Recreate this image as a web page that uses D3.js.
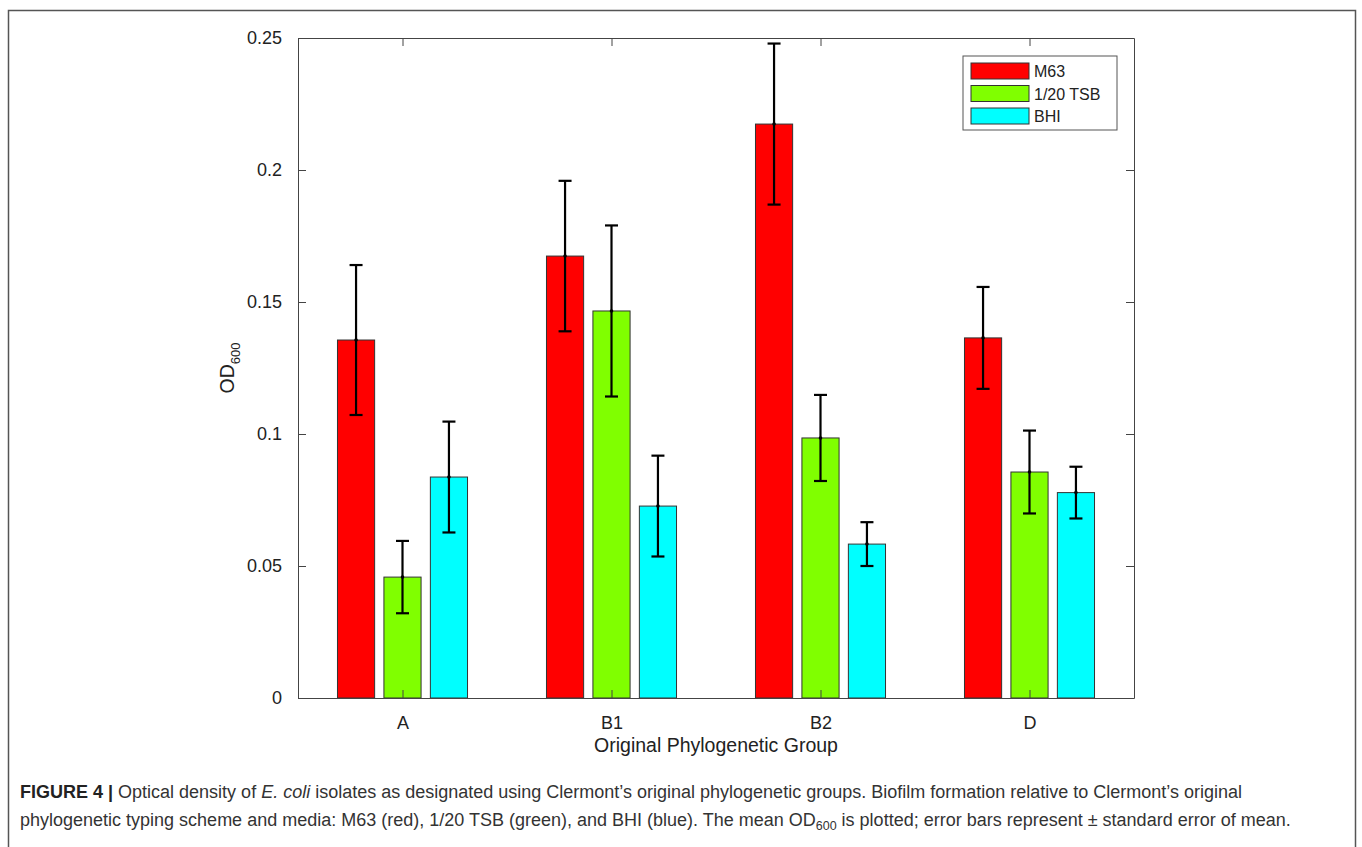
<!DOCTYPE html>
<html>
<head>
<meta charset="utf-8">
<script src="https://cdn.jsdelivr.net/npm/d3@7"></script>
<style>
  body { margin: 0; background: #fff; }
  svg text { font-family: "Liberation Sans", Arial, sans-serif; }
</style>
</head>
<body>
<div id="chart"></div>
<script>
const groups = ["A", "B1", "B2", "D"];
const media = ["M63", "1/20 TSB", "BHI"];
const colors = ["#ff0000", "#80ff00", "#00ffff"];
const meanM63 = [0.1356, 0.1674, 0.2174, 0.1364];
const meanTSB = [0.0458, 0.1466, 0.0985, 0.0856];
const meanBHI = [0.0837, 0.0727, 0.0583, 0.0778];
const semM63 = [0.0284, 0.0285, 0.0305, 0.0193];
const semTSB = [0.0137, 0.0324, 0.0163, 0.0157];
const semBHI = [0.0210, 0.0191, 0.0083, 0.0098];
const yTicks = [0, 0.05, 0.1, 0.15, 0.2, 0.25];

const drawChart = function() {
    const W = 1362, H = 847;
    const left = 298, top = 38, right = 1134, bottom = 698;

    const means = [meanM63, meanTSB, meanBHI];
    const sems = [semM63, semTSB, semBHI];
    const data = [];
    groups.forEach(function(g, gi) {
        media.forEach(function(m, mi) {
            data.push({group: g, gi: gi, mi: mi, value: means[mi][gi], sem: sems[mi][gi]});
        });
    });

    const svg = d3.select("#chart").append("svg")
        .attr("width", W)
        .attr("height", H);

    // outer figure frame
    svg.append("path")
        .attr("d", "M8.5," + H + "V10.5H1355.5V" + H)
        .attr("fill", "none")
        .attr("stroke", "#555")
        .attr("stroke-width", 1.5);

    const x = d3.scaleLinear().domain([0.5, 4.5]).range([left, right]);
    const y = d3.scaleLinear().domain([0, 0.25]).range([bottom, top]);

    const groupW = 3 / 4.5;
    const barOffset = function(mi) { return (mi - 1) * groupW / 3; };
    const barW = x(1 + 0.8 * groupW / 3) - x(1);
    const cx = function(d) { return x(d.gi + 1 + barOffset(d.mi)); };

    // bars
    svg.append("g").selectAll("rect")
        .data(data)
        .join("rect")
        .attr("x", function(d) { return cx(d) - barW / 2; })
        .attr("y", function(d) { return y(d.value); })
        .attr("width", barW)
        .attr("height", function(d) { return y(0) - y(d.value); })
        .attr("fill", function(d) { return colors[d.mi]; })
        .attr("stroke", "#333")
        .attr("stroke-width", 1);

    // error bars
    const eb = svg.append("g").attr("stroke", "#000").attr("stroke-width", 2.2);
    eb.selectAll("line.v")
        .data(data)
        .join("line")
        .attr("class", "v")
        .attr("x1", cx).attr("x2", cx)
        .attr("y1", function(d) { return y(d.value + d.sem); })
        .attr("y2", function(d) { return y(d.value - d.sem); });
    [1, -1].forEach(function(s) {
        eb.selectAll("line.c" + (s > 0 ? "t" : "b"))
            .data(data)
            .join("line")
            .attr("class", "c" + (s > 0 ? "t" : "b"))
            .attr("x1", function(d) { return cx(d) - 6.5; })
            .attr("x2", function(d) { return cx(d) + 6.5; })
            .attr("y1", function(d) { return y(d.value + s * d.sem); })
            .attr("y2", function(d) { return y(d.value + s * d.sem); });
    });
    svg.append("g").selectAll("circle")
        .data(data)
        .join("circle")
        .attr("cx", cx)
        .attr("cy", function(d) { return y(d.value); })
        .attr("r", 1.8)
        .attr("fill", "#000");

    // axes (box with inward ticks)
    const axisColor = "#444";
    const tickLen = 8;
    const styleAxis = function(g) {
        g.select(".domain").attr("stroke", axisColor);
        g.selectAll(".tick line").attr("stroke", axisColor);
        g.selectAll(".tick text")
            .attr("fill", "#222")
            .style("font-size", "18px")
            .style("font-family", "Liberation Sans, Arial, sans-serif");
    };

    svg.append("g")
        .attr("transform", "translate(" + left + ",0)")
        .call(d3.axisLeft(y).tickValues(yTicks).tickFormat(d3.format("~g"))
            .tickSizeInner(-tickLen).tickSizeOuter(0).tickPadding(16))
        .call(styleAxis);

    svg.append("g")
        .attr("transform", "translate(" + right + ",0)")
        .call(d3.axisRight(y).tickValues(yTicks).tickFormat("")
            .tickSizeInner(-tickLen).tickSizeOuter(0))
        .call(styleAxis);

    svg.append("g")
        .attr("transform", "translate(0," + bottom + ")")
        .call(d3.axisBottom(x).tickValues([1, 2, 3, 4])
            .tickFormat(function(d) { return groups[d - 1]; })
            .tickSizeInner(-tickLen).tickSizeOuter(0).tickPadding(18))
        .call(styleAxis);

    svg.append("g")
        .attr("transform", "translate(0," + top + ")")
        .call(d3.axisTop(x).tickValues([1, 2, 3, 4]).tickFormat("")
            .tickSizeInner(-tickLen).tickSizeOuter(0))
        .call(styleAxis);

    // x axis label
    svg.append("text")
        .attr("x", (left + right) / 2)
        .attr("y", 752)
        .style("text-anchor", "middle")
        .style("font-size", "19.5px")
        .attr("fill", "#222")
        .text("Original Phylogenetic Group");

    // y axis label
    const yl = svg.append("text")
        .attr("transform", "translate(234," + ((top + bottom) / 2) + ") rotate(-90)")
        .style("text-anchor", "middle")
        .style("font-size", "19.5px")
        .attr("fill", "#222");
    yl.append("tspan").text("OD");
    yl.append("tspan").attr("dy", 6).style("font-size", "13px").text("600");

    // legend
    const lg = svg.append("g").attr("transform", "translate(963,56)");
    lg.append("rect")
        .attr("width", 154).attr("height", 74)
        .attr("fill", "#fff").attr("stroke", "#555").attr("stroke-width", 1);
    media.forEach(function(m, i) {
        lg.append("rect")
            .attr("x", 8).attr("y", 7 + i * 22.5)
            .attr("width", 58).attr("height", 16)
            .attr("fill", colors[i]).attr("stroke", "#333");
        lg.append("text")
            .attr("x", 71).attr("y", 21 + i * 22.5)
            .style("font-size", "16px")
            .attr("fill", "#222")
            .text(m);
    });

    // caption
    const cap = svg.append("g").style("font-size", "18px").attr("fill", "#333");
    const l1 = cap.append("text").attr("x", 20).attr("y", 798);
    l1.append("tspan").style("font-weight", "bold").attr("fill", "#222").text("FIGURE 4 | ");
    l1.append("tspan").text("Optical density of ");
    l1.append("tspan").style("font-style", "italic").text("E. coli");
    l1.append("tspan").text(" isolates as designated using Clermont\u2019s original phylogenetic groups. Biofilm formation relative to Clermont\u2019s original");
    const l2 = cap.append("text").attr("x", 20).attr("y", 826);
    l2.append("tspan").text("phylogenetic typing scheme and media: M63 (red), 1/20 TSB (green), and BHI (blue). The mean OD");
    l2.append("tspan").attr("dy", 4).style("font-size", "12.5px").text("600");
    l2.append("tspan").attr("dy", -4).text(" is plotted; error bars represent \u00b1 standard error of mean.");
};

drawChart();
</script>
</body>
</html>
